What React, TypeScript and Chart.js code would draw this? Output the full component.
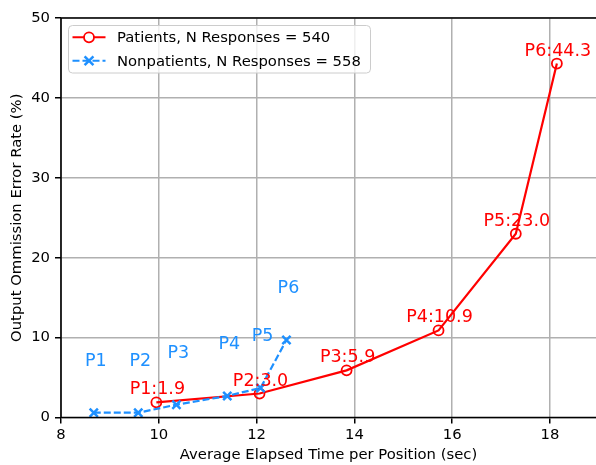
import React, { useEffect, useRef } from "react";
import { Chart, registerables } from "chart.js";
Chart.register(...registerables);

const patientTimes = [9.95, 12.06, 13.84, 15.72, 17.3, 18.14];
const patientRates = [1.9, 3.0, 5.9, 10.9, 23.0, 44.3];
const nonpatientTimes = [8.67, 9.58, 10.36, 11.4, 12.08, 12.61];
const nonpatientRates = [0.6, 0.6, 1.6, 2.7, 3.7, 9.7];
const positionNames = ["P1", "P2", "P3", "P4", "P5", "P6"];
const xTicks = [8, 10, 12, 14, 16, 18];
const yTicks = [0, 10, 20, 30, 40, 50];
const patientLegend = "Patients, N Responses = 540";
const nonpatientLegend = "Nonpatients, N Responses = 558";
const xTitle = "Average Elapsed Time per Position (sec)";
const yTitle = "Output Ommission Error Rate (%)";

const RED = "#ff0000";
const BLUE = "#1e90ff";
const FONT = "'DejaVu Sans', sans-serif";

const overlay = {
  id: "overlay",
  afterDatasetsDraw(chart: any) {
    const { ctx, chartArea: a, scales } = chart;
    const x = scales.x;
    const y = scales.y;
    ctx.save();
    // annotations
    ctx.font = `17.5px ${FONT}`;
    ctx.textAlign = "center";
    ctx.textBaseline = "alphabetic";
    ctx.fillStyle = RED;
    patientTimes.forEach((t, i) => {
      ctx.fillText(
        `${positionNames[i]}:${patientRates[i].toFixed(1)}`,
        x.getPixelForValue(t) + 1,
        y.getPixelForValue(patientRates[i]) - 8
      );
    });
    ctx.fillStyle = BLUE;
    nonpatientTimes.forEach((t, i) => {
      ctx.fillText(
        positionNames[i],
        x.getPixelForValue(t) + 2,
        y.getPixelForValue(nonpatientRates[i]) - 47
      );
    });
    // spines
    ctx.strokeStyle = "#000";
    ctx.lineWidth = 1.6;
    ctx.beginPath();
    ctx.moveTo(a.right + 10, a.top);
    ctx.lineTo(a.left, a.top);
    ctx.lineTo(a.left, a.bottom);
    ctx.lineTo(a.right + 10, a.bottom);
    ctx.stroke();
    // legend
    const lx = a.left + 7.5;
    const ly = a.top + 7.5;
    const lw = 302;
    const lh = 47.5;
    ctx.beginPath();
    ctx.roundRect(lx, ly, lw, lh, 4);
    ctx.fillStyle = "rgba(255,255,255,0.8)";
    ctx.fill();
    ctx.strokeStyle = "#cccccc";
    ctx.lineWidth = 1;
    ctx.stroke();
    const rows = [
      { label: patientLegend, color: RED, dash: [] as number[], marker: "circle" },
      { label: nonpatientLegend, color: BLUE, dash: [7, 3], marker: "x" },
    ];
    rows.forEach((r, i) => {
      const cy = ly + 11.8 + i * 23.5;
      const x0 = lx + 4;
      const x1 = lx + 37;
      const mx = (x0 + x1) / 2;
      ctx.strokeStyle = r.color;
      ctx.lineWidth = 2;
      ctx.setLineDash(r.dash);
      ctx.beginPath();
      ctx.moveTo(x0, cy);
      ctx.lineTo(x1, cy);
      ctx.stroke();
      ctx.setLineDash([]);
      if (r.marker === "circle") {
        ctx.beginPath();
        ctx.arc(mx, cy, 5, 0, Math.PI * 2);
        ctx.fillStyle = "#fff";
        ctx.fill();
        ctx.lineWidth = 1.8;
        ctx.stroke();
      } else {
        const s = 4.4;
        ctx.lineWidth = 2.5;
        ctx.beginPath();
        ctx.moveTo(mx - s, cy - s);
        ctx.lineTo(mx + s, cy + s);
        ctx.moveTo(mx + s, cy - s);
        ctx.lineTo(mx - s, cy + s);
        ctx.stroke();
      }
      ctx.fillStyle = "#000";
      ctx.font = `14.8px ${FONT}`;
      ctx.textAlign = "left";
      ctx.textBaseline = "middle";
      ctx.fillText(r.label, lx + 48.5, cy + 1);
    });
    ctx.restore();
  },
};

export default function App() {
  const ref = useRef<HTMLCanvasElement | null>(null);
  useEffect(() => {
    if (!ref.current) return;
    const chart = new Chart(ref.current, {
      type: "line",
      data: {
        datasets: [
          {
            label: patientLegend,
            data: patientTimes.map((t, i) => ({ x: t, y: patientRates[i] })),
            borderColor: RED,
            borderWidth: 2.2,
            pointStyle: "circle",
            pointRadius: 5,
            pointBorderWidth: 1.8,
            pointBorderColor: RED,
            pointBackgroundColor: "rgba(0,0,0,0)",
            tension: 0,
            order: 2,
            clip: false,
          } as any,
          {
            label: nonpatientLegend,
            data: nonpatientTimes.map((t, i) => ({ x: t, y: nonpatientRates[i] })),
            borderColor: BLUE,
            borderWidth: 2.2,
            borderDash: [7, 3],
            pointStyle: "crossRot",
            pointRadius: 5.8,
            pointBorderWidth: 2.5,
            pointBorderColor: BLUE,
            tension: 0,
            order: 1,
            clip: false,
          } as any,
        ],
      },
      options: {
        animation: false,
        responsive: false,
        maintainAspectRatio: false,
        devicePixelRatio: 1,
        layout: { autoPadding: false, padding: { top: 18, right: 0, left: 0, bottom: 0 } },
        plugins: { legend: { display: false }, tooltip: { enabled: false } },
        scales: {
          x: {
            type: "linear",
            min: 8,
            max: 18.94,
            afterBuildTicks: (s: any) => {
              s.ticks = xTicks.map((v) => ({ value: v }));
            },
            afterFit: (s: any) => {
              s.height = 47.5;
              s.paddingLeft = 0;
              s.paddingRight = 0;
            },
            grid: {
              color: "#b0b0b0",
              lineWidth: 1.5,
              tickColor: "#000",
              tickLength: 6,
              tickWidth: 1.5,
            },
            border: { display: false },
            ticks: {
              color: "#000",
              font: { family: FONT, size: 14.8 },
              padding: 3,
              maxRotation: 0,
              autoSkip: false,
            },
            title: {
              display: true,
              text: xTitle,
              color: "#000",
              font: { family: FONT, size: 14.8 },
              padding: { top: 0, bottom: 1 },
            },
          },
          y: {
            type: "linear",
            min: 0,
            max: 50,
            afterBuildTicks: (s: any) => {
              s.ticks = yTicks.map((v) => ({ value: v }));
            },
            afterFit: (s: any) => {
              s.width = 61;
            },
            grid: {
              color: "#b0b0b0",
              lineWidth: 1.5,
              tickColor: "#000",
              tickLength: 6,
              tickWidth: 1.5,
            },
            border: { display: false },
            ticks: {
              color: "#000",
              font: { family: FONT, size: 14.8 },
              padding: 5,
              autoSkip: false,
            },
            title: {
              display: true,
              text: yTitle,
              color: "#000",
              font: { family: FONT, size: 14.8 },
              padding: { top: 8, bottom: 0 },
            },
          },
        },
      },
      plugins: [overlay],
    });
    return () => chart.destroy();
  }, []);
  return (
    <div style={{ position: "fixed", left: 0, top: 0, width: 596, height: 465, background: "#fff" }}>
      <canvas ref={ref} width={596} height={465} />
    </div>
  );
}
